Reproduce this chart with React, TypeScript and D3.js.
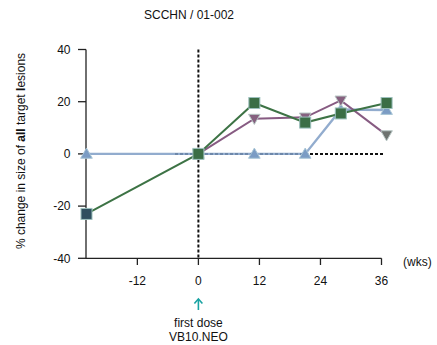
import React from "react";
import * as d3 from "d3";

const title = "SCCHN / 01-002";
const xTicks = [-12, 0, 12, 24, 36];
const yTicks = [-40, -20, 0, 20, 40];

const greenWeeks = [-22, 0, 11, 21, 28, 37];
const greenValues = [-23, 0, 19.5, 12, 15.5, 19.5];

const purpleWeeks = [0, 11, 21, 28, 37];
const purpleValues = [0, 13.5, 14, 20.5, 7.2];

const blueWeeks = [-22, 0, 11, 21, 28, 37];
const blueValues = [0, 0, 0, 0, 17, 16.8];

const FONT = "Liberation Sans, Arial, sans-serif";

export default function App() {
  const x = d3.scaleLinear().domain([-22, 36]).range([86.5, 381.5]);
  const y = d3.scaleLinear().domain([-40, 40]).range([258.3, 49.5]);
  const line = d3
    .line<[number, number]>()
    .x((d) => x(d[0]))
    .y((d) => y(d[1]));

  const zip = (a: number[], b: number[]) => a.map((v, i) => [v, b[i]] as [number, number]);
  const green = zip(greenWeeks, greenValues);
  const purple = zip(purpleWeeks, purpleValues);
  const blue = zip(blueWeeks, blueValues);

  const tri = (cx: number, cy: number, up: boolean, s = 5.8) =>
    up
      ? `M${cx},${cy - s} L${cx + s},${cy + s * 0.75} L${cx - s},${cy + s * 0.75} Z`
      : `M${cx},${cy + s} L${cx + s},${cy - s * 0.75} L${cx - s},${cy - s * 0.75} Z`;

  const x0 = x(0);
  const y0 = y(0);

  return (
    <svg width={437} height={345} style={{ position: "absolute", left: 0, top: 0 }} fontFamily={FONT}>
      <rect width={437} height={345} fill="#fff" />
      <text x={189} y={19} fontSize={12} textAnchor="middle" fill="#111">
        {title}
      </text>

      {/* y axis */}
      <line x1={86} x2={86} y1={49.5} y2={258.3} stroke="#222" strokeWidth={1.3} />
      {yTicks.map((t) => (
        <g key={t}>
          <line x1={78} x2={86} y1={y(t)} y2={y(t)} stroke="#222" strokeWidth={1.3} />
          <text x={70.5} y={y(t) + 4.3} fontSize={12} textAnchor="end" fill="#111">
            {t}
          </text>
        </g>
      ))}
      {/* x axis */}
      <line x1={86} x2={x(36)} y1={258.3} y2={258.3} stroke="#222" strokeWidth={1.3} />
      {xTicks.map((t) => (
        <g key={t}>
          <line x1={x(t)} x2={x(t)} y1={258.3} y2={265} stroke="#222" strokeWidth={1.3} />
          <text x={x(t)} y={284.5} fontSize={12} textAnchor="middle" fill="#111">
            {t}
          </text>
        </g>
      ))}
      <text x={403} y={266} fontSize={12} fill="#111">
        (wks)
      </text>

      <text
        transform={`translate(25,151) rotate(-90)`}
        fontSize={12}
        textAnchor="middle"
        fill="#111"
      >
        % change in size of <tspan fontWeight="bold">all</tspan> target{" "}
        <tspan fontWeight="bold">l</tspan>esions
      </text>

      {/* reference lines */}
      <line x1={x0} x2={x0} y1={49.5} y2={258.3} stroke="#111" strokeWidth={2} strokeDasharray="3,2" />
      <line x1={175} x2={383} y1={y0} y2={y0} stroke="#111" strokeWidth={2} strokeDasharray="3,2" />

      {/* series lines */}
      <path d={line(blue) || ""} fill="none" stroke="#7f9ec6" strokeWidth={2.4} strokeOpacity={0.85} />
      <path d={line(purple) || ""} fill="none" stroke="#875b82" strokeWidth={2} />
      <path d={line(green) || ""} fill="none" stroke="#3d7345" strokeWidth={2} />

      {/* markers */}
      {blue.map((d, i) => (
        <path key={"b" + i} d={tri(x(d[0]), y(d[1]), true)} fill="#7b9cc4" stroke="#a9c6d6" strokeWidth={1} />
      ))}
      {purple.map((d, i) => (
        <path
          key={"p" + i}
          d={tri(x(d[0]), y(d[1]), false)}
          fill={i === purple.length - 1 ? "#6e7370" : "#86607f"}
          stroke="#b9c8c6"
          strokeWidth={1}
        />
      ))}
      {green.map((d, i) => (
        <rect
          key={"g" + i}
          x={x(d[0]) - 5.5}
          y={y(d[1]) - 5.5}
          width={11}
          height={11}
          fill={i === 0 ? "#2f4f5f" : "#3b6e46"}
          stroke="#9cc0bd"
          strokeWidth={1}
        />
      ))}

      {/* annotation */}
      <g stroke="#1aa3a3" strokeWidth={1.6} fill="none">
        <line x1={x0} x2={x0} y1={299} y2={310} />
        <path d={`M${x0 - 4},${303.5} L${x0},${299} L${x0 + 4},${303.5}`} />
      </g>
      <text x={x0} y={326.5} fontSize={12} textAnchor="middle" fill="#111">
        first dose
      </text>
      <text x={x0} y={340.5} fontSize={12} textAnchor="middle" fill="#111">
        VB10.NEO
      </text>
    </svg>
  );
}
